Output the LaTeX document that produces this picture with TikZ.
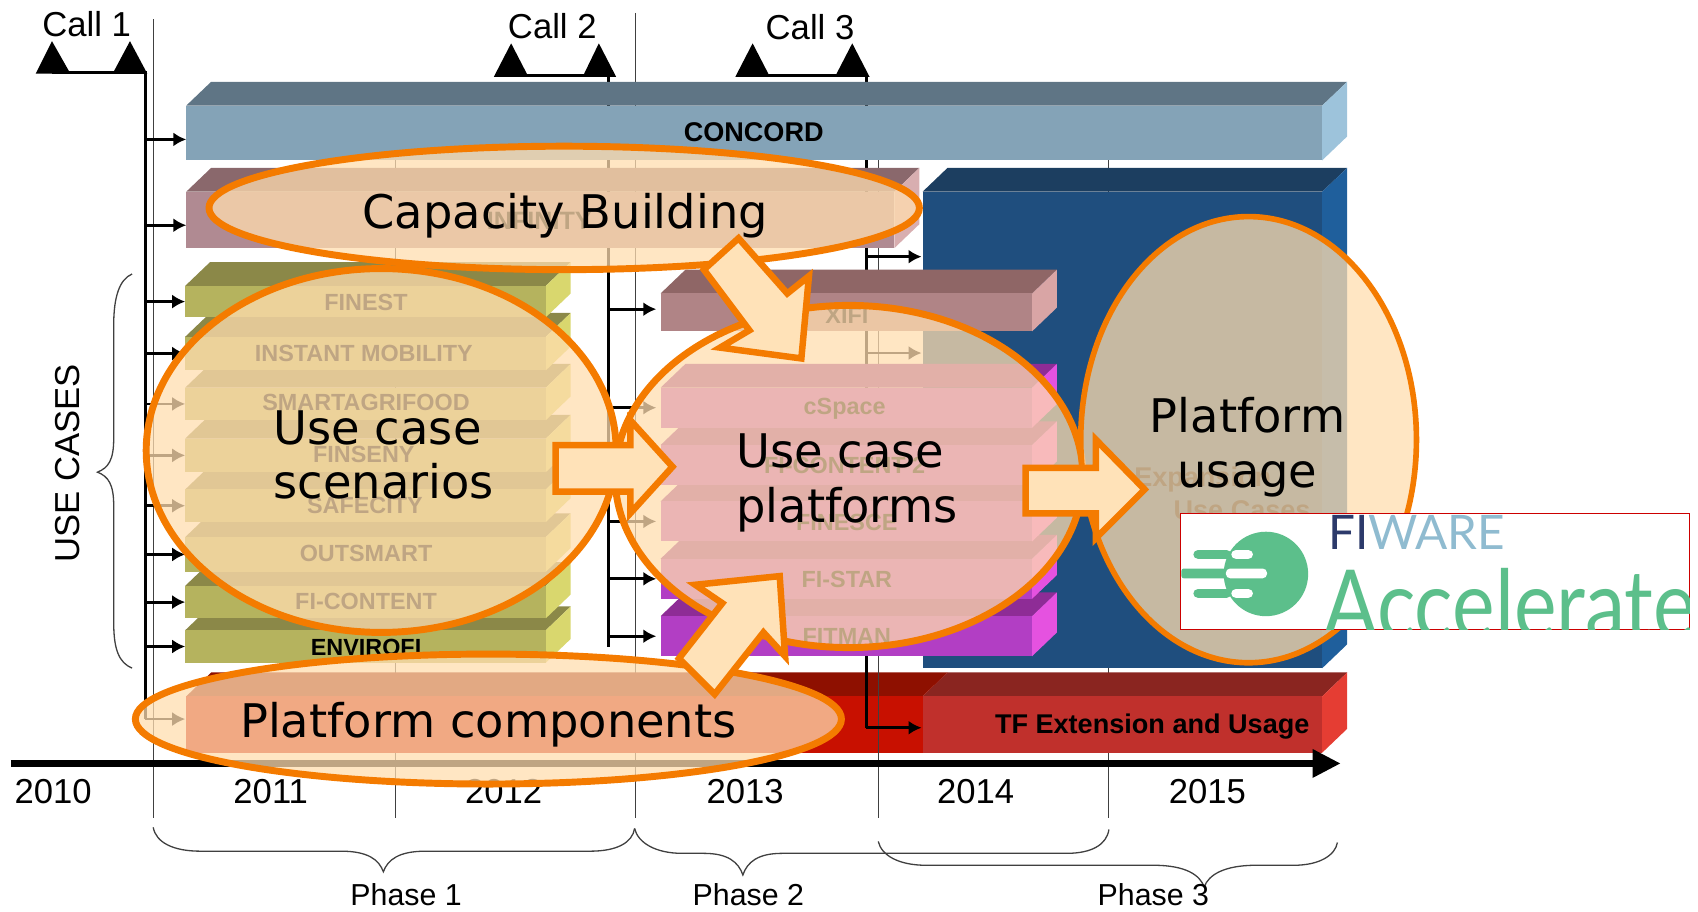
\documentclass[tikz,border=0pt]{standalone}
\usepackage{fontspec}
\setmainfont{Liberation Sans}
\newfontfamily\dejavu{DejaVu Sans}
\newfontfamily\lato{Lato}
\usetikzlibrary{arrows.meta,fit,shapes.geometric}
\definecolor{orangeline}{HTML}{F47B00}
\definecolor{peach}{HTML}{FFDDAF}
\definecolor{peachsolid}{HTML}{FFE2B8}
\definecolor{logogreen}{HTML}{5CBF8B}
\definecolor{conF}{HTML}{84A3B7}\definecolor{conT}{HTML}{5F7585}\definecolor{conS}{HTML}{9DC3DB}
\definecolor{infF}{HTML}{B08A92}\definecolor{infT}{HTML}{8A686C}\definecolor{infS}{HTML}{D8AEB0}
\definecolor{bluF}{HTML}{1F4E7E}\definecolor{bluT}{HTML}{1C3E60}\definecolor{bluS}{HTML}{1F5F9C}
\definecolor{redF}{HTML}{C81000}\definecolor{redT}{HTML}{8E1000}\definecolor{redS}{HTML}{E03020}
\definecolor{tfF}{HTML}{C0302C}\definecolor{tfT}{HTML}{8A2520}\definecolor{tfS}{HTML}{E53D33}
\definecolor{oliF}{HTML}{B5B35E}\definecolor{oliT}{HTML}{8B8848}\definecolor{oliS}{HTML}{D9D76E}
\definecolor{xifF}{HTML}{B08486}\definecolor{xifT}{HTML}{8F6666}\definecolor{xifS}{HTML}{D9A5A5}
\definecolor{magF}{HTML}{B23EC4}\definecolor{magT}{HTML}{8E2C96}\definecolor{magS}{HTML}{E552E0}
\tikzset{
  guide/.style={draw=black!75,line width=0.5pt},
  spine/.style={draw=black,line width=1.4pt},
  feed/.style={draw=black,line width=1.3pt,-{Latex[length=6pt,width=6.5pt]}},
  barlabel/.style={font=\fontsize{12.5}{15}\selectfont\bfseries,text=black,inner sep=0pt},
  smalllabel/.style={font=\fontsize{10.8}{13}\selectfont\bfseries,text=black,inner sep=0pt},
  big/.style={font=\fontsize{16}{19}\selectfont,text=black,inner sep=0pt},
  phase/.style={font=\fontsize{14}{17}\selectfont,text=black,inner sep=0pt},
  curly/.style={draw=black!75,line width=0.6pt},
  callmark/.style={fill=black},
  blob/.style={ellipse,draw=orangeline,line width=3.2pt,fill=peach,fill opacity=0.75,draw opacity=1,inner sep=0pt,outer sep=0pt},
  blobtext/.style={font=\dejavu\fontsize{21.4}{25}\selectfont,text=black,inner sep=0pt},
  blockarrow/.style={draw=orangeline,fill=peachsolid,line width=3pt,line join=miter},
}
% name, x1, y1, x2, y2, front, top, side
\newcommand{\threedbar}[8]{%
  \path (#2,#3) ++(23,-22) coordinate (#1a) (#4,#3) ++(23,-22) coordinate (#1b) (#4,#5) ++(23,-22) coordinate (#1c);
  \fill[#7] (#2,#3) -- (#1a) -- (#1b) -- (#4,#3) -- cycle;
  \fill[#8] (#4,#3) -- (#1b) -- (#1c) -- (#4,#5) -- cycle;
  \node[fit={(#2,#3)(#4,#5)},inner sep=0pt,outer sep=0pt,fill=#6] (#1) {};
}
\begin{document}
\begin{tikzpicture}[x=0.5pt,y=-0.5pt]
\useasboundingbox (0,0) rectangle (1568,841.3);
% thin guides
\draw[guide] (142,18) -- (142,755);
\draw[guide] (365,148) -- (365,755);
\draw[guide] (587,12) -- (587,755);
\draw[guide] (811,148) -- (811,755);
\draw[guide] (1024,148) -- (1024,755);
% bars that the call lines pass over
\threedbar{redbar}{172}{643}{852}{695}{redF}{redT}{redS}
\threedbar{tf}{852}{643}{1221}{695}{tfF}{tfT}{tfS}
\draw[guide] (811,620) -- (811,696);
% call markers and call lines
\node[big] (call1) at (80,22) {Call 1};
\node[big] (call2) at (510,24) {Call 2};
\node[big] (call3) at (748,25) {Call 3};
\fill[callmark] (33,68) -- (48,38) -- (65,68) -- cycle;
\fill[callmark] (104,68) -- (120,38) -- (136,68) -- cycle;
\fill[callmark] (456,71) -- (472,40) -- (488,71) -- cycle;
\fill[callmark] (538,71) -- (553,40) -- (569,71) -- cycle;
\fill[callmark] (679,71) -- (695,40) -- (711,71) -- cycle;
\fill[callmark] (771,71) -- (787,40) -- (803,71) -- cycle;
\coordinate (spA) at (134,67);
\coordinate (spAend) at (134,664);
\coordinate (spB) at (562,70);
\coordinate (spBend) at (562,597);
\coordinate (spC) at (800,70);
\coordinate (spCend) at (800,672);
\draw[spine] (48,67) -- (spA) -- (spAend);
\draw[spine] (472,70) -- (spB) -- (spBend);
\draw[spine] (695,70) -- (spC) -- (spCend);
% other bars
\threedbar{concord}{172}{97.5}{1221}{148}{conF}{conT}{conS}
\threedbar{infinity}{172}{177}{826}{229}{infF}{infT}{infS}
\threedbar{expansion}{852}{177}{1221}{617}{bluF}{bluT}{bluS}
\threedbar{envirofi}{171}{582}{504}{612}{oliF}{oliT}{oliS}
\threedbar{ficontent}{171}{541}{504}{571}{oliF}{oliT}{oliS}
\threedbar{outsmart}{171}{496}{504}{528}{oliF}{oliT}{oliS}
\threedbar{safecity}{171}{452}{504}{482}{oliF}{oliT}{oliS}
\threedbar{finseny}{171}{405}{504}{436}{oliF}{oliT}{oliS}
\threedbar{smartagri}{171}{358}{504}{388}{oliF}{oliT}{oliS}
\threedbar{instant}{171}{311}{504}{342}{oliF}{oliT}{oliS}
\threedbar{finest}{171}{264}{504}{293}{oliF}{oliT}{oliS}
\threedbar{xifi}{610}{271}{953}{306}{xifF}{xifT}{xifS}
\threedbar{fitman}{610}{569}{953}{606}{magF}{magT}{magS}
\threedbar{fistar}{610}{516}{953}{553}{magF}{magT}{magS}
\threedbar{finesce}{610}{463}{953}{500}{magF}{magT}{magS}
\threedbar{ficontenttwo}{610}{411}{953}{448}{magF}{magT}{magS}
\threedbar{cspace}{610}{358}{953}{395}{magF}{magT}{magS}
% bar labels
\node[barlabel] (lconcord) at (696,122) {CONCORD};
\node[smalllabel,font=\fontsize{11.6}{14}\selectfont\bfseries] (linfinity) at (498,204) {INFINITY};
\node[barlabel,anchor=west] (lexp) at (1047,443) {Expansion};
\node[barlabel] (lusec) at (1147,471) {Use Cases};
\node[barlabel] (ltf) at (1064,671) {TF Extension and Usage};
\node[smalllabel] (lfinest) at (338,279) {FINEST};
\node[smalllabel] (linstant) at (336,326) {INSTANT MOBILITY};
\node[smalllabel] (lsmart) at (338,372) {SMARTAGRIFOOD};
\node[smalllabel] (lfinseny) at (336,420) {FINSENY};
\node[smalllabel] (lsafe) at (337,467) {SAFECITY};
\node[smalllabel] (lout) at (338,511) {OUTSMART};
\node[smalllabel] (lficon) at (338,555) {FI-CONTENT};
\node[smalllabel] (lenv) at (338,598) {ENVIROFI};
\node[smalllabel] (lxifi) at (782,291) {XIFI};
\node[smalllabel] (lcspace) at (780,377) {cSpace};
\node[smalllabel] (lficon2) at (780,430) {FI-CONTENT 2};
\node[smalllabel] (lfinesce) at (782,482) {FINESCE};
\node[smalllabel] (lfistar) at (782,535) {FI-STAR};
\node[smalllabel] (lfitman) at (782,588) {FITMAN};
% feed arrows
\draw[feed] ([yshift=-3pt]spA |- concord.west) -- ([yshift=-3pt]concord.west);
\draw[feed] ([yshift=-2.5pt]spA |- infinity.west) -- ([yshift=-2.5pt]infinity.west);
\foreach \b in {finest,instant,smartagri,finseny,safecity,outsmart,ficontent,envirofi}
  \draw[feed] (spA |- \b.west) -- (\b.west);
\coordinate (redin) at (171,664);
\draw[feed] (spAend) -- (redin);
\draw[feed] ([yshift=1.5pt]spB |- xifi.west) -- ([xshift=-2pt,yshift=1.5pt]xifi.west);
\foreach \b in {cspace,finesce,fistar,fitman}
  \draw[feed] (spB |- \b.west) -- ([xshift=-2pt]\b.west);
\coordinate (expin) at (851,237);
\coordinate (expintwo) at (851,326);
\coordinate (tfin) at (851,672);
\draw[feed] (spC |- expin) -- (expin);
\draw[feed] (spC |- expintwo) -- (expintwo);
\draw[feed] (spCend) -- (tfin);
% timeline
\coordinate (tstart) at (10,705);
\coordinate (tend) at (1238,705);
\draw[line width=3pt,-{Triangle[length=13pt,width=12.5pt]}] (tstart) -- (tend);
\node[big] (y10) at (49,731) {2010};
\node[big] (y11) at (250,731) {2011};
\node[big] (y12) at (465,731) {2012};
\node[big] (y13) at (688,731) {2013};
\node[big] (y14) at (901,731) {2014};
\node[big] (y15) at (1115,731) {2015};
% braces
\draw[curly] (122,253) .. controls (110,258) and (105,275) .. (105,300) -- (105,405) .. controls (105,425) and (100,432) .. (90,436) .. controls (100,440) and (105,447) .. (105,467) -- (105,575) .. controls (105,600) and (110,612) .. (122,617);
\draw[curly] (141.5,764) .. controls (144,778) and (160,786) .. (185,786) -- (315,786) .. controls (340,786) and (350,794) .. (354,805) .. controls (358,794) and (368,786) .. (393,786) -- (545,786) .. controls (570,786) and (584,778) .. (586,765);
\draw[curly] (586,765) .. controls (589,778) and (605,788) .. (630,788) -- (650,788) .. controls (672,788) and (682,796) .. (686,808) .. controls (690,796) and (700,788) .. (722,788) -- (985,788) .. controls (1008,788) and (1022,780) .. (1024,766);
\draw[curly] (811,777) .. controls (814,790) and (830,799) .. (855,799) -- (1065,799) .. controls (1095,799) and (1108,808) .. (1112,819) .. controls (1116,808) and (1130,799) .. (1160,799) -- (1195,799) .. controls (1218,799) and (1233,790) .. (1235,778);
\node[phase] (ph1) at (375,826) {Phase 1};
\node[phase] (ph2) at (691,826) {Phase 2};
\node[phase] (ph3) at (1065,826) {Phase 3};
\node[big,rotate=90] (usecases) at (62,428) {USE CASES};
% overlay ellipses
\node[blob,minimum width=328pt,minimum height=57pt] (capacity) at (521,192) {};
\node[blob,minimum width=217pt,minimum height=168pt] (scen) at (352,416) {};
\node[blob,minimum width=216pt,minimum height=158pt] (plat) at (784,440) {};
\node[blob,line width=2.6pt,minimum width=155pt,minimum height=206pt] (usage) at (1153,406) {};
\node[blob,minimum width=326pt,minimum height=60pt] (comp) at (451,664) {};
% block arrows
\draw[blockarrow] (513,411) -- (582,411) -- (582,388) -- (621,431) -- (582,474) -- (582,454) -- (513,454) -- cycle;
\draw[blockarrow] (947,432) -- (1012,432) -- (1012,406) -- (1057,452) -- (1012,497) -- (1012,474) -- (947,474) -- cycle;
\draw[blockarrow] (682,220) -- (650,249) -- (692,305) -- (665,321) -- (740,331) -- (747,255) -- (727,271) -- cycle;
\draw[blockarrow] (660,641) -- (627,608) -- (667,557) -- (642,540) -- (720,532) -- (725,606) -- (705,584) -- cycle;
% ellipse texts
\node[blobtext] (tcap) at (522,199) {Capacity Building};
\node[blobtext,align=left] (tscen) at (354.5,420) {Use case\\scenarios};
\node[blobtext,align=left] (tplat) at (782,446) {Use case\\platforms};
\node[blobtext,align=center] (tusage) at (1152,413) {Platform\\usage};
\node[blobtext] (tcomp) at (451,669) {Platform components};
% logo
\node[fit={(1090,474)(1560,581)},inner sep=0pt,outer sep=0pt,fill=white,draw=red!80!black,line width=0.5pt] (logo) {};
\begin{scope}
\clip (1090,474) rectangle (1560,581);
\fill[logogreen] (1169,530) circle[radius=39];
\fill[logogreen,rounded corners=2pt] (1102,508) rectangle (1137,516);
\fill[logogreen,rounded corners=1pt] (1091,525) rectangle (1132,534);
\fill[logogreen,rounded corners=2pt] (1102,544) rectangle (1137,552);
\fill[white,rounded corners=2pt] (1137,508) rectangle (1157,516);
\fill[white,rounded corners=2pt] (1132,525) rectangle (1170,534);
\fill[white,rounded corners=2pt] (1137,544) rectangle (1157,552);
\node[anchor=base west,inner sep=0pt,font=\lato\fontsize{22}{26}\selectfont] (fiware) at (1226,507) {\textcolor[HTML]{2C3A6B}{FI}\textcolor[HTML]{8FBBD0}{WARE}};
\begin{scope}[shift={(1222,590)},xscale=0.845]
\node[anchor=base west,transform shape,inner sep=0pt,text=logogreen,font=\lato\fontsize{44}{50}\selectfont] (accel) at (0,0) {Accelerate};
\end{scope}
\end{scope}
\end{tikzpicture}
\end{document}
